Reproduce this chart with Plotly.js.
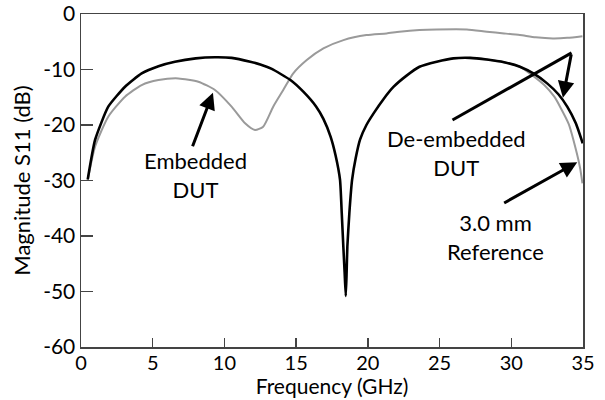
<!DOCTYPE html>
<html>
<head>
<meta charset="utf-8">
<script src="https://cdn.plot.ly/plotly-3.0.1.min.js"></script>
<style>html,body{margin:0;padding:0;background:#fff;}#chart{width:605px;height:400px;}</style>
</head>
<body>
<div id="chart"></div>
<script>
// De-embedded DUT (black)
const deembFreq = [0.47, 0.98, 1.9, 3.07, 4.23, 5.4, 6.55, 8.0, 9.34, 10.5, 11.8, 12.5, 13.3, 14.6, 15.5, 16.4, 16.9, 17.4, 17.75, 18.06, 18.18, 18.29, 18.38, 18.46, 18.52, 18.57, 18.71, 18.9, 19.15, 19.46, 19.9, 20.4, 21.1, 21.8, 22.7, 23.6, 24.8, 25.96, 27.1, 28.3, 29.5, 30.6, 31.6, 32.5, 33.3, 33.9, 34.5, 34.98];
const deembS11 = [-29.8, -22.7, -16.7, -13.1, -10.7, -9.4, -8.6, -8.0, -7.8, -7.9, -8.6, -9.1, -9.9, -11.9, -14.0, -16.7, -18.9, -22.1, -25.5, -29.9, -35.9, -41.9, -46.5, -50.8, -46.5, -41.9, -35.9, -29.9, -26.0, -22.6, -20.0, -17.9, -15.3, -13.1, -11.1, -9.5, -8.6, -8.0, -7.9, -8.2, -8.7, -9.5, -10.8, -12.5, -14.5, -16.7, -19.7, -23.3];

// Embedded DUT (grey)
const embFreq = [0.47, 0.98, 1.9, 3.07, 4.23, 5.4, 6.79, 8.18, 9.34, 10.5, 11.44, 12.13, 12.7, 13.4, 14.1, 14.8, 15.74, 16.9, 18.3, 19.9, 21.3, 22.2, 23.6, 24.8, 26.9, 28.3, 29.5, 30.6, 31.7, 32.9, 33.9, 34.96];
const embS11 = [-29.9, -23.9, -18.5, -14.9, -12.8, -11.9, -11.6, -12.2, -13.7, -16.7, -19.7, -20.9, -20.3, -16.7, -13.7, -10.7, -8.3, -6.2, -4.7, -3.8, -3.5, -3.2, -2.9, -2.8, -2.8, -3.2, -3.5, -3.8, -4.2, -4.4, -4.3, -4.0];

// 3.0 mm Reference (grey)
const refFreq = [27.1, 28.3, 29.5, 30.6, 31.5, 32.3, 33.0, 33.4, 34.0, 34.57, 34.8, 34.96];
const refS11 = [-7.9, -8.2, -8.7, -9.5, -11.1, -12.8, -14.9, -16.7, -19.8, -25.1, -27.8, -30.5];

const xTicks = [0, 5, 10, 15, 20, 25, 30, 35];
const yTicks = [0, -10, -20, -30, -40, -50, -60];

const FONT = "Lato, sans-serif";
const traces = [
  {x: refFreq, y: refS11, type: 'scatter', mode: 'lines', name: '3.0 mm Reference',
   line: {color: '#9a9a9a', width: 2, shape: 'spline', smoothing: 0.5}},
  {x: embFreq, y: embS11, type: 'scatter', mode: 'lines', name: 'Embedded DUT',
   line: {color: '#9a9a9a', width: 2, shape: 'spline', smoothing: 0.6}},
  {x: deembFreq, y: deembS11, type: 'scatter', mode: 'lines', name: 'De-embedded DUT',
   line: {color: '#000', width: 2.6, shape: 'spline', smoothing: 0.5}}
];

const arrowCommon = {xref: 'x', yref: 'y', axref: 'x', ayref: 'y', text: '', showarrow: true,
  arrowhead: 2, arrowsize: 1.1, arrowwidth: 3, arrowcolor: '#000'};
const textCommon = {xref: 'x', yref: 'y', showarrow: false, font: {family: FONT, size: 22, color: '#000'}};

const layout = {
  width: 605, height: 400,
  margin: {l: 81, r: 22, t: 14, b: 53},
  paper_bgcolor: '#fff', plot_bgcolor: '#fff',
  showlegend: false,
  font: {family: FONT, size: 20, color: '#000'},
  xaxis: {range: [0, 35], tickvals: xTicks, ticktext: xTicks.map(String),
    ticks: 'inside', ticklen: 9, tickwidth: 1.5, tickcolor: '#444',
    showline: true, linecolor: '#444', linewidth: 1.5, mirror: true,
    showgrid: false, zeroline: false, ticklabelstandoff: -3,
    tickfont: {family: FONT, size: 20},
    title: {text: 'Frequency (GHz)', font: {family: FONT, size: 21}, standoff: 2}},
  yaxis: {range: [-60, 0], tickvals: yTicks, ticktext: yTicks.map(String),
    ticks: 'inside', ticklen: 12, tickwidth: 1.5, tickcolor: '#444',
    showline: true, linecolor: '#444', linewidth: 1.5, mirror: true,
    showgrid: false, zeroline: false,
    tickfont: {family: FONT, size: 21},
    title: {text: 'Magnitude S11 (dB)', font: {family: FONT, size: 22}, standoff: 6}},
  shapes: [
    {type: 'line', xref: 'x', yref: 'y', x0: 25.9, y0: -19.1, x1: 34.2, y1: -7.0,
     line: {color: '#000', width: 3}}
  ],
  annotations: [
    Object.assign({}, arrowCommon, {x: 9.2, y: -14.2, ax: 7.74, ay: -24.1}),
    Object.assign({}, arrowCommon, {x: 33.6, y: -15.1, ax: 34.2, ay: -7.0}),
    Object.assign({}, arrowCommon, {x: 34.6, y: -26.7, ax: 29.4, ay: -34.2}),
    Object.assign({}, textCommon, {x: 8.0, y: -29.0, text: 'Embedded<br>DUT'}),
    Object.assign({}, textCommon, {x: 26.2, y: -25.0, text: 'De-embedded<br>DUT'}),
    Object.assign({}, textCommon, {x: 28.9, y: -40.2, text: '3.0 mm<br>Reference'})
  ]
};

Plotly.newPlot('chart', traces, layout, {displayModeBar: false, staticPlot: true});
</script>
</body>
</html>
